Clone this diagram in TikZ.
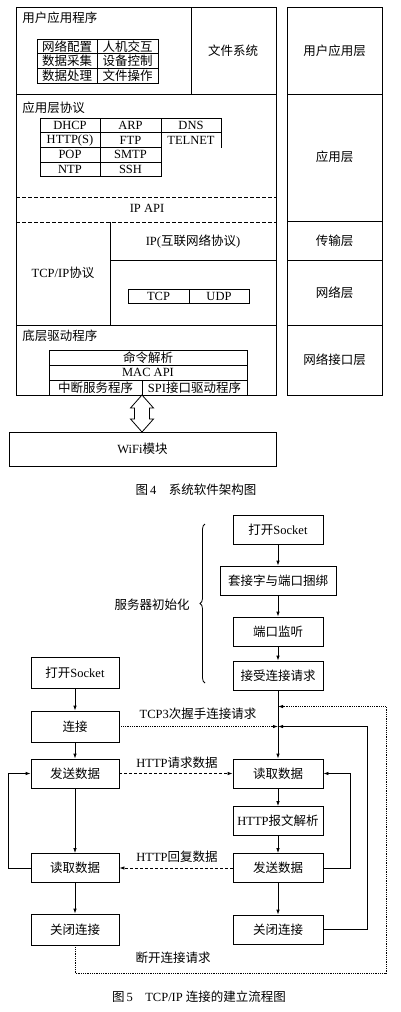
\documentclass[tikz,border=0pt]{standalone}
\usepackage{fontspec}
\setmainfont{Liberation Serif}
\newfontfamily\cjkfont{Noto Sans CJK SC}
\newcommand{\zh}[1]{{\cjkfont #1}}
\usetikzlibrary{arrows.meta,calc,positioning,decorations.pathreplacing}

\begin{document}
\begin{tikzpicture}[x=1pt, y=-1pt, line width=0.8pt,
  every node/.style={font=\fontsize{12.5}{14}\selectfont, inner sep=1pt},
  cell/.style={draw, minimum height=14.7pt, inner sep=0pt},
  flow/.style={draw, minimum width=90pt, minimum height=29pt, inner sep=2pt},
  arr/.style={-{Latex[length=5pt,width=3.5pt]}},
  req/.style={arr, densely dotted},
  msg/.style={arr, dash pattern=on 3pt off 2pt},
  sep/.style={dash pattern=on 4pt off 2pt}]
\useasboundingbox (0,0) rectangle (400,1012);

% software architecture
\draw (16,7) rectangle (276,395);
\draw (287,7) rectangle (382,395);
\draw (16,94) -- (276,94); \draw (191,7) -- (191,94);
\draw[sep] (16,197) -- (276,197); \draw[sep] (16,222) -- (276,222);
\draw (110,222) -- (110,325); \draw (110,260) -- (276,260);
\draw (16,325) -- (276,325);
\draw (287,94) -- (382,94); \draw (287,221) -- (382,221);
\draw (287,260) -- (382,260); \draw (287,325) -- (382,325);

\node[anchor=west] (app) at (21,18) {\zh{用户应用程序}};
\node (fs) at (233,51) {\zh{文件系统}};
\node[cell, minimum width=60pt] (g11) at (67,46.4) {\zh{网络配置}};
\node[cell, minimum width=61pt] (g12) at (127.5,46.4) {\zh{人机交互}};
\node[cell, minimum width=60pt] (g21) at (67,61.1) {\zh{数据采集}};
\node[cell, minimum width=61pt] (g22) at (127.5,61.1) {\zh{设备控制}};
\node[cell, minimum width=60pt] (g31) at (67,75.8) {\zh{数据处理}};
\node[cell, minimum width=61pt] (g32) at (127.5,75.8) {\zh{文件操作}};

\node[anchor=west] (proto) at (21,108) {\zh{应用层协议}};
\node[cell, minimum width=60pt] (dhcp) at (70,125.4) {DHCP};
\node[cell, minimum width=61pt] (arp) at (130.5,125.4) {ARP};
\node[cell, minimum width=60pt] (dns) at (191,125.4) {DNS};
\node[cell, minimum width=60pt] (http) at (70,140.1) {HTTP(S)};
\node[cell, minimum width=61pt] (ftp) at (130.5,140.1) {FTP};
\node[cell, minimum width=60pt, draw=none] (telnet) at (191,140.1) {TELNET};
\draw (telnet.north east) -- (telnet.south east);
\node[cell, minimum width=60pt] (pop) at (70,154.8) {POP};
\node[cell, minimum width=61pt] (smtp) at (130.5,154.8) {SMTP};
\node[cell, minimum width=60pt] (ntp) at (70,169.5) {NTP};
\node[cell, minimum width=61pt] (ssh) at (130.5,169.5) {SSH};

\node (ipapi) at (147,208) {IP API};
\node (tcpip) at (63,273) {TCP/IP\zh{协议}};
\node (ip) at (193,241) {IP(\zh{互联网络协议})};
\node[cell, minimum width=61pt, minimum height=14pt] (tcp) at (158.5,296) {TCP};
\node[cell, minimum width=60pt, minimum height=14pt] (udp) at (219,296) {UDP};

\node[anchor=west] (drv) at (21,336) {\zh{底层驱动程序}};
\node[cell, minimum width=198pt, minimum height=15pt] (cmd) at (148,357.5) {\zh{命令解析}};
\node[cell, minimum width=198pt, minimum height=15pt] (mac) at (148,372.5) {MAC API};
\node[cell, minimum width=93pt, minimum height=15pt] (isr) at (95.5,387.5) {\zh{中断服务程序}};
\node[cell, minimum width=105pt, minimum height=15pt] (spi) at (194.5,387.5) {SPI\zh{接口驱动程序}};

\node (l1) at (334.5,51) {\zh{用户应用层}};
\node (l2) at (334.5,157) {\zh{应用层}};
\node (l3) at (334.5,241) {\zh{传输层}};
\node (l4) at (334.5,293) {\zh{网络层}};
\node (l5) at (334.5,360) {\zh{网络接口层}};

\node[draw, minimum width=267pt, minimum height=34pt] (wifi) at (142.5,449) {WiFi\zh{模块}};
\draw (142,395) -- (153.5,408) -- (149.5,408) -- (149.5,419) -- (153.5,419) -- (142,432)
  -- (130.5,419) -- (134.5,419) -- (134.5,408) -- (130.5,408) -- cycle;
\node (cap4) at (196,490) {\zh{图}\,4\quad\zh{系统软件架构图}};

% server side
\node[flow] (sopen) at (278,529.5) {\zh{打开}Socket};
\node[flow, minimum width=116pt] (sbind) at (278,580.5) {\zh{套接字与端口捆绑}};
\node[flow] (slisten) at (278,631.5) {\zh{端口监听}};
\node[flow] (saccept) at (278,675.5) {\zh{接受连接请求}};
\node[flow] (sread) at (278,773.5) {\zh{读取数据}};
\node[flow] (sparse) at (278,821) {HTTP\zh{报文解析}};
\node[flow] (ssend) at (278,868) {\zh{发送数据}};
\node[flow] (sclose) at (278,929.5) {\zh{关闭连接}};
\draw[decorate, decoration={brace, amplitude=5pt}] (205,683) -- (205,524);
\node (init) at (152,605) {\zh{服务器初始化}};

% client side
\node[flow, minimum width=88pt, minimum height=31pt] (copen) at (75,672.5) {\zh{打开}Socket};
\node[flow, minimum width=88pt, minimum height=31pt] (cconn) at (75,726.5) {\zh{连接}};
\node[flow, minimum width=88pt] (csend) at (75,773.5) {\zh{发送数据}};
\node[flow, minimum width=88pt] (cread) at (75,868) {\zh{读取数据}};
\node[flow, minimum width=88pt, minimum height=31pt] (cclose) at (75,929.5) {\zh{关闭连接}};

\draw[arr] (sopen) -- (sbind);
\draw[arr] (sbind) -- (slisten);
\draw[arr] (slisten) -- (saccept);
\draw[arr] (saccept) -- (sread);
\draw[arr] (sread) -- (sparse);
\draw[arr] (sparse) -- (ssend);
\draw[arr] (ssend) -- (sclose);
\draw[arr] (copen) -- (cconn);
\draw[arr] (cconn) -- (csend);
\draw[arr] (csend) -- (cread);
\draw[arr] (cread) -- (cclose);

\coordinate (hs) at (saccept.south |- cconn.east);
\coordinate (dc) at ($(hs)+(0,-20)$);
\draw[req] (cconn) -- (hs);
\node (lhs) at (198,714) {TCP3\zh{次握手连接请求}};
\draw[msg] (csend) -- (sread);
\node (lreq) at (177,763) {HTTP\zh{请求数据}};
\draw[msg] (ssend) -- (cread);
\node (lrep) at (177,857) {HTTP\zh{回复数据}};
\draw[arr] (cread.west) -- ++(-22,0) |- (csend.west);
\draw[arr] (ssend.east) -- ++(27,0) |- (sread.east);
\draw[arr] (sclose.east) -- ++(44,0) |- (hs);
\draw[req] (cclose.south) -- ++(0,28) -- ++(311,0) |- (dc);
\node (lfin) at (173,958) {\zh{断开连接请求}};

\node (cap5) at (199,997) {\zh{图}\,5\quad TCP/IP \zh{连接的建立流程图}};
\end{tikzpicture}
\end{document}
